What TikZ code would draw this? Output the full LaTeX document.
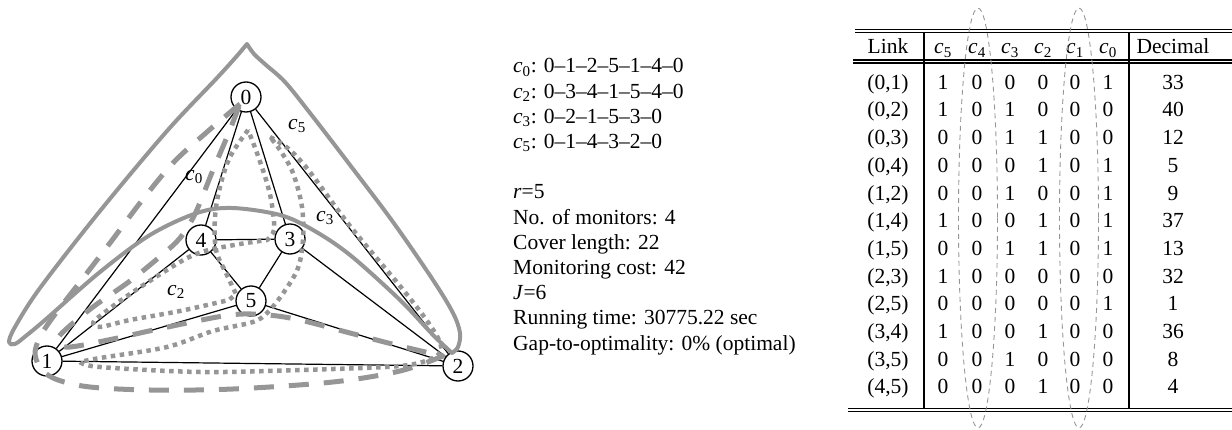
\documentclass[tikz,border=0pt]{standalone}
\usepackage{fontspec}
\setmainfont{Liberation Serif}
\definecolor{cycgray}{RGB}{150,150,150}
\newcommand{\cyc}[1]{\textit{c}\textsubscript{#1}}
\begin{document}
\begin{tikzpicture}[x=1pt,y=-1pt,
  every node/.append style={font=\fontsize{21.5pt}{25.2pt}\selectfont},
  vtx/.style={circle,draw,line width=1.3pt,fill=white,minimum size=30pt,inner sep=0pt},
  edge/.style={line width=1.2pt},
  cycsolid/.style={draw=cycgray,line width=4pt,line join=round,line cap=round},
  cycdash/.style={draw=cycgray,line width=5pt,line join=round,dash pattern=on 20pt off 15pt},
  cycdot/.style={draw=cycgray,line width=4.5pt,line join=round,dash pattern=on 4.5pt off 4.5pt},
  txt/.style={anchor=base west,inner sep=0pt},
  cell/.style={anchor=base,inner sep=0pt},
  rule/.style={line width=1.2pt},
  colring/.style={draw=cycgray,line width=0.9pt,dash pattern=on 5pt off 4pt}
]
\useasboundingbox (0,0) rectangle (1232,430);

% ---------------- graph ----------------
\node[vtx] (n0) at (246,97)  {0};
\node[vtx] (n1) at (47,361)  {1};
\node[vtx] (n2) at (458,366) {2};
\node[vtx] (n3) at (290,239) {3};
\node[vtx] (n4) at (201,240) {4};
\node[vtx] (n5) at (251,301) {5};

\begin{scope}[on background layer/.style={}]
\draw[edge] (n0) -- (n1);
\draw[edge] (n0) -- (n2);
\draw[edge] (n0) -- (n3);
\draw[edge] (n0) -- (n4);
\draw[edge] (n1) -- (n2);
\draw[edge] (n1) -- (n4);
\draw[edge] (n1) -- (n5);
\draw[edge] (n2) -- (n3);
\draw[edge] (n2) -- (n5);
\draw[edge] (n3) -- (n4);
\draw[edge] (n3) -- (n5);
\draw[edge] (n4) -- (n5);
\end{scope}

% cycle c5: 0-1-4-3-2-0 (solid)
\draw[cycsolid] plot[smooth,tension=0.55] coordinates {(452,353) (458,347) (460,333) (453,313) (433,280) (393,222) (350,165) (310,113) (285,82) (266,65) (254,54) (247,44)}
  -- plot[smooth,tension=0.55] coordinates {(247,44) (236,57) (216,79) (167,131) (100,211) (40,288) (15,327) (9,342) (15,344) (27,335) (45,320) (100,272) (150,235) (197,213) (232,208) (280,215) (313,230) (350,255) (400,300) (433,335) (452,353)};

% cycle c0: 0-1-2-5-1-4-0 (dashed)
\draw[cycdash] plot[smooth,tension=0.55] coordinates {(240,104) (207,132) (173,163) (140,203) (110,243) (80,282) (53,317) (40,337) (35,354) (42,370) (58,380) (90,387) (150,390) (233,389) (333,382) (400,371) (443,356)}
  -- plot[smooth,tension=0.55] coordinates {(443,356) (400,346) (350,333) (300,320) (267,315) (230,315) (163,328) (113,339) (70,347) (58,343) (62,333) (93,307) (130,281) (163,254) (180,238) (195,214) (213,170) (227,137) (240,104)};

% cycle c2: 0-3-4-1-5-4-0 (dotted)
\draw[cycdot] plot[smooth,tension=0.55] coordinates {(248,130) (230,157) (220,187) (215,217) (216,250) (226,273) (236,294)}
  -- plot[smooth,tension=0.55] coordinates {(229,300) (180,311) (130,320) (100,327) (93,323) (100,316) (130,294) (180,262) (205,251) (240,244) (267,240)}
  -- plot[smooth,tension=0.55] coordinates {(267,240) (274,230) (272,205) (267,183) (257,153) (248,130)};

% cycle c3: 0-2-1-5-3-0 (dotted)
\draw[cycdot] plot[smooth,tension=0.55] coordinates {(270,137) (285,146) (298,158) (313,176) (350,226) (400,286) (425,318) (438,338) (442,350)}
  -- plot[smooth,tension=0.55] coordinates {(442,350) (433,358) (400,366) (300,370) (200,372) (100,367) (80,362)}
  -- plot[smooth,tension=0.55] coordinates {(80,362) (100,358) (167,347) (213,331) (253,322) (268,312) (284,292) (298,268) (303,240) (302,207) (293,173) (280,150) (270,137)};

% cycle labels
\node (l0) at (194,177) {\cyc{0}};
\node (l5) at (297,126) {\cyc{5}};
\node (l3) at (325,218) {\cyc{3}};
\node (l2) at (176,292) {\cyc{2}};

% ---------------- cycles and results ----------------
\node[txt] (t0)  at (513,73)    {\cyc{0}: 0–1–2–5–1–4–0};
\node[txt] (t1)  at (513,98.2)  {\cyc{2}: 0–3–4–1–5–4–0};
\node[txt] (t2)  at (513,123.4) {\cyc{3}: 0–2–1–5–3–0};
\node[txt] (t3)  at (513,148.6) {\cyc{5}: 0–1–4–3–2–0};
\node[txt] (t5)  at (513,199)   {\textit{r}=5};
\node[txt] (t6)  at (513,224.2) {No. of monitors: 4};
\node[txt] (t7)  at (513,249.4) {Cover length: 22};
\node[txt] (t8)  at (513,274.6) {Monitoring cost: 42};
\node[txt] (t9)  at (513,299.8) {\textit{J}=6};
\node[txt] (t10) at (513,325)   {Running time: 30775.22 sec};
\node[txt] (t11) at (513,350.2) {Gap-to-optimality: 0\% (optimal)};

% ---------------- table ----------------
\draw[rule] (855,29.3) -- (1232,29.3);
\draw[rule] (855,32.3) -- (1232,32.3);
\draw[rule] (853,60) -- (1232,60);
\draw[rule] (853,63) -- (1232,63);
\draw[rule] (848,408.3) -- (1232,408.3);
\draw[rule] (848,411.6) -- (1232,411.6);
\draw[rule] (924,32.3) -- (924,408.3);
\draw[rule] (1129,32.3) -- (1129,408.3);

\node[cell] (hlink) at (888,54) {Link};
\node[cell] (hdec)  at (1173,54) {Decimal};
\foreach \xx/\sub [count=\j] in {943/5,977/4,1010/3,1043/2,1075/1,1108/0}
  \node[cell] (h\j) at (\xx,54) {\cyc{\sub}};

\foreach \lk/\ka/\kb/\kc/\kd/\ke/\kf/\dec [count=\i from 0] in {
  {(0,1)}/1/0/0/0/0/1/33,
  {(0,2)}/1/0/1/0/0/0/40,
  {(0,3)}/0/0/1/1/0/0/12,
  {(0,4)}/0/0/0/1/0/1/5,
  {(1,2)}/0/0/1/0/0/1/9,
  {(1,4)}/1/0/0/1/0/1/37,
  {(1,5)}/0/0/1/1/0/1/13,
  {(2,3)}/1/0/0/0/0/0/32,
  {(2,5)}/0/0/0/0/0/1/1,
  {(3,4)}/1/0/0/1/0/0/36,
  {(3,5)}/0/0/1/0/0/0/8,
  {(4,5)}/0/0/0/1/0/0/4}
{
  \pgfmathsetmacro\yy{89.3+27.68*\i}
  \node[cell] (lk\i) at (888,\yy) {\lk};
  \node[cell] (va\i) at (943,\yy) {\ka};
  \node[cell] (vb\i) at (977,\yy) {\kb};
  \node[cell] (vc\i) at (1010,\yy) {\kc};
  \node[cell] (vd\i) at (1043,\yy) {\kd};
  \node[cell] (ve\i) at (1075,\yy) {\ke};
  \node[cell] (vf\i) at (1108,\yy) {\kf};
  \node[cell] (dc\i) at (1173,\yy) {\dec};
}

% dashed rings around the c4 and c1 columns
\draw[colring] (978,218) ellipse [x radius=19.5, y radius=210];
\draw[colring] (1079,218) ellipse [x radius=19.5, y radius=210];
\end{tikzpicture}
\end{document}
